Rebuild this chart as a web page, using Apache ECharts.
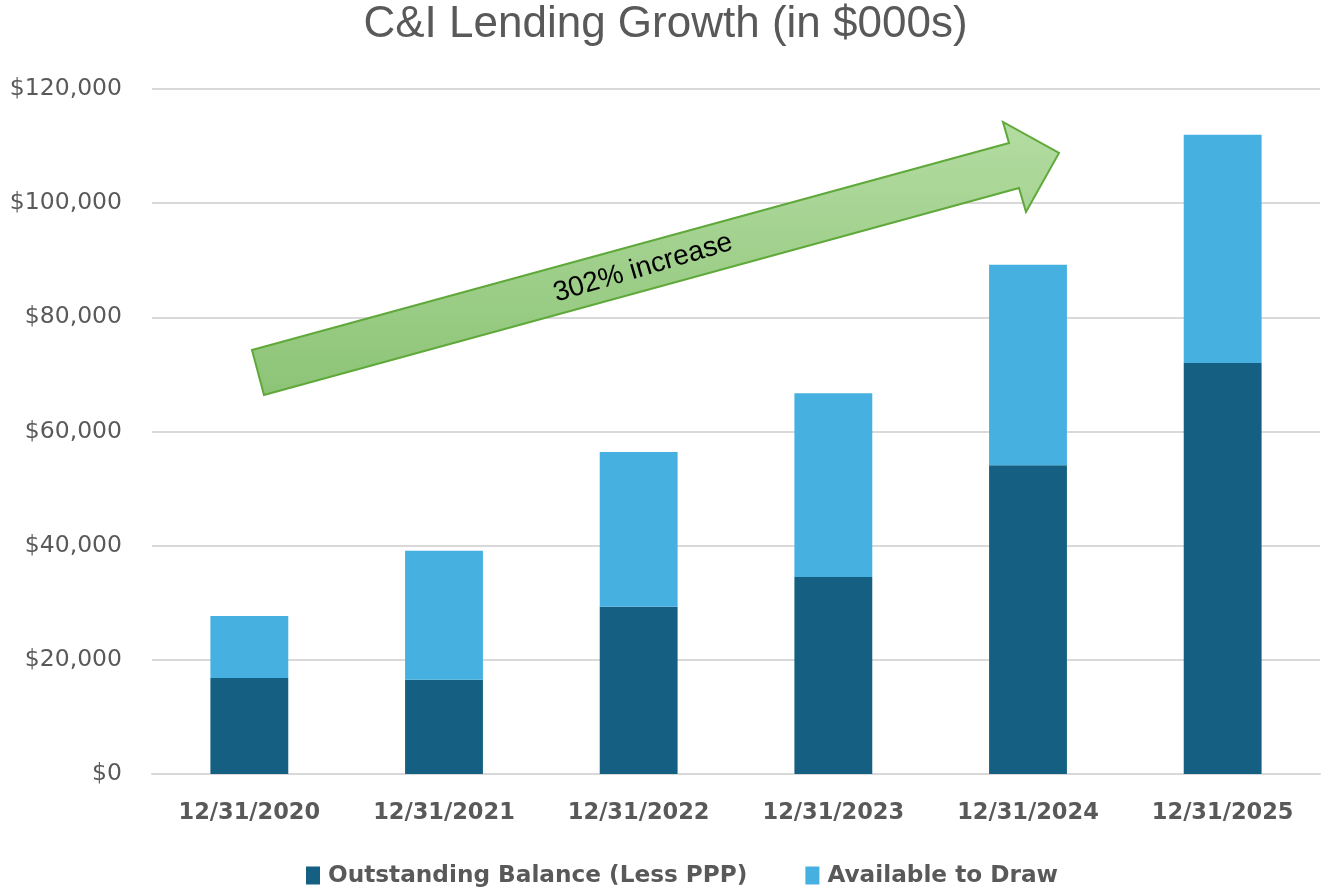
<!DOCTYPE html>
<html>
<head>
    <meta charset="UTF-8">
    <title>C&amp;I Lending Growth</title>
    <script type="text/javascript" src="https://cdn.jsdelivr.net/npm/echarts@6/dist/echarts.min.js"></script>
    <style type="text/css">
        html, body { margin: 0; padding: 0; background: #fff; }
        #chart { width: 1331px; height: 891px; }
    </style>
</head>
<body>
<div id="chart"></div>
<script type="text/javascript">
    // 数据
    var categories = ['12/31/2020', '12/31/2021', '12/31/2022', '12/31/2023', '12/31/2024', '12/31/2025'];
    var outstanding = [16800, 16500, 29300, 34500, 54100, 72000];
    var available = [10900, 22600, 27100, 32200, 35100, 40000];
    var yTicks = [0, 20000, 40000, 60000, 80000, 100000, 120000];

    var grey = '#595959';

    var chart = echarts.init(document.getElementById('chart'));
    chart.setOption({
        animation: false,
        title: {
            text: 'C&I Lending Growth (in $000s)',
            left: 'center',
            top: -2,
            textStyle: {fontFamily: 'Liberation Sans', fontSize: 44, fontWeight: 'normal', color: grey}
        },
        legend: {
            left: 306,
            top: 864,
            padding: 0,
            itemWidth: 14,
            itemHeight: 18,
            itemGap: 58,
            icon: 'rect',
            textStyle: {fontFamily: 'DejaVu Sans', fontSize: 23.2, fontWeight: 'bold', color: grey, padding: [0, 0, 0, 3]}
        },
        grid: {left: 152, right: 11, top: 89, bottom: 117},
        xAxis: {
            type: 'category',
            data: categories,
            axisLine: {lineStyle: {color: '#d9d9d9', width: 2}},
            axisTick: {show: false},
            axisLabel: {fontFamily: 'DejaVu Sans', fontSize: 22.5, fontWeight: 'bold', color: grey, margin: 28}
        },
        yAxis: {
            type: 'value',
            min: yTicks[0],
            max: yTicks[yTicks.length - 1],
            interval: 20000,
            axisLine: {show: false},
            axisTick: {show: false},
            splitLine: {lineStyle: {color: '#d9d9d9', width: 2}},
            axisLabel: {
                fontFamily: 'DejaVu Sans', fontSize: 23.5, color: grey, margin: 30,
                formatter: function (v) { return '$' + v.toLocaleString('en-US'); }
            }
        },
        series: [
            {name: 'Outstanding Balance (Less PPP)', type: 'bar', stack: 'total', barWidth: '40%',
             itemStyle: {color: '#156082'}, data: outstanding},
            {name: 'Available to Draw', type: 'bar', stack: 'total', barWidth: '40%',
             itemStyle: {color: '#46b1e1'}, data: available}
        ],
        // 增长箭头注释
        graphic: [
            {
                type: 'polygon',
                z: 10,
                shape: {points: [[252, 350], [1009, 143], [1003, 122], [1059, 153], [1026, 212], [1019, 188], [264, 395]]},
                style: {
                    fill: new echarts.graphic.LinearGradient(0, 0, 0, 1, [
                        {offset: 0, color: '#b4dca2'},
                        {offset: 1, color: '#8cc476'}
                    ]),
                    stroke: '#5fa83a',
                    lineWidth: 2
                }
            },
            {
                type: 'text',
                z: 11,
                x: 643,
                y: 268,
                rotation: 16.5 * Math.PI / 180,
                style: {
                    text: '302% increase',
                    fontFamily: 'Liberation Sans',
                    fontSize: 28,
                    fill: '#000',
                    align: 'center',
                    verticalAlign: 'middle'
                }
            }
        ]
    });
</script>
</body>
</html>
